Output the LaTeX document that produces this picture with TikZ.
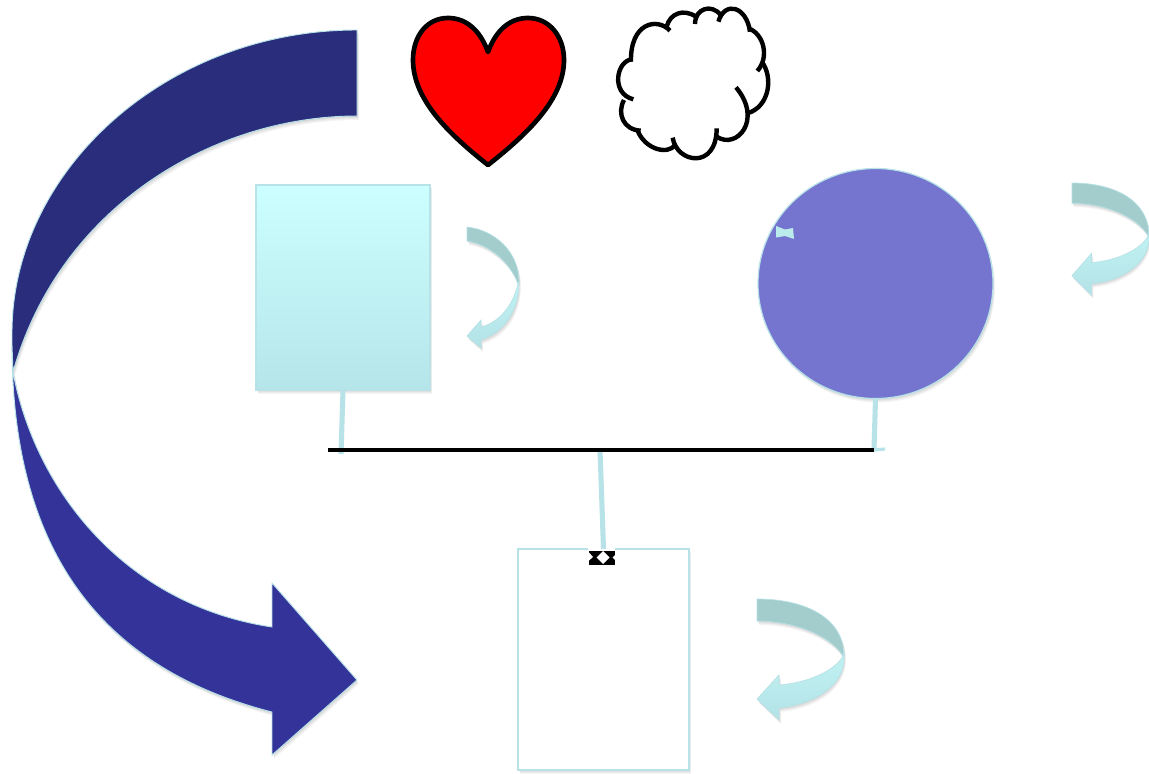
\documentclass[tikz,border=0pt]{standalone}
\usetikzlibrary{shapes.geometric}
\definecolor{edgepale}{HTML}{B7E2E7}
\definecolor{navyup}{HTML}{2A2C7C}
\definecolor{navylow}{HTML}{343399}
\definecolor{discfill}{HTML}{7575CF}
\definecolor{swoopdark}{HTML}{A3CCCC}
\definecolor{swooptop}{HTML}{C2F3F3}
\definecolor{swoopbot}{HTML}{B2E2E6}
\definecolor{paneltop}{HTML}{CCFFFF}
\definecolor{panelmid}{HTML}{C6F8FA}
\definecolor{panelbot}{HTML}{B5E5E9}
\newcommand{\softcopy}[1]{%
  \fill[black,opacity=.04,shift={(0.5,1)}] #1;
  \fill[black,opacity=.04,shift={(1,2)}] #1;
  \fill[black,opacity=.04,shift={(1.5,3)}] #1;
  \fill[black,opacity=.04,shift={(2,4)}] #1;
}
\newcommand{\swoop}[4]{%
  \begin{scope}[shift={(#1,#2)},xscale=#3,yscale=#4]
    \softcopy{(0,0) .. controls (50,0) and (87,20) .. (87,57) .. controls (87,85) and (60,105) .. (22,109) -- (22,121) -- (0,100) -- (22,76) -- (22,86) .. controls (50,84) and (78,72) .. (86,57) .. controls (72,35) and (35,22) .. (0,22) -- cycle}
    \path[swoopline,fill=swoopdark] (0,0) .. controls (50,0) and (87,20) .. (87,57) -- (86,57) .. controls (72,35) and (35,22) .. (0,22) -- cycle;
    \path[swoopline,top color=swooptop,bottom color=swoopbot] (87,52) -- (87,60) .. controls (87,85) and (60,105) .. (22,109) -- (22,121) -- (0,100) -- (22,76) -- (22,86) .. controls (50,84) and (78,72) .. (86,57) -- cycle;
  \end{scope}
}
\tikzset{
  x=0.75pt,y=-0.75pt,
  swoopline/.style={draw=edgepale,line width=0.5pt},
  bigline/.style={draw=edgepale,line width=0.7pt,line join=miter},
  stem/.style={draw=edgepale,line width=3.8pt},
  bar/.style={draw=black,line width=3.2pt},
  outline/.style={draw=black,line width=3.5pt,line join=round},
  puff/.style={draw=black,line width=3.3pt},
  panel/.style={rectangle,inner sep=0pt,outer sep=0pt,draw=edgepale,line width=0.9pt},
}
\begin{document}
\begin{tikzpicture}
\useasboundingbox (0,0) rectangle (1149,774);
\fill[white] (0,0) rectangle (1149,774);
% big arrow
\softcopy{(357,30) .. controls (167,30) and (12,170) .. (12,333) -- (12,345) .. controls (12,550) and (100,668) .. (272,712) -- (272,755) -- (357,680) -- (272,583) -- (272,627) .. controls (125,605) and (35,490) .. (13,372) -- (13,372) .. controls (60,205) and (215,116) .. (357,116) -- cycle}
\path[bigline,fill=navylow] (12,345) .. controls (12,550) and (100,668) .. (272,712) -- (272,755) -- (357,680) -- (272,583) -- (272,627) .. controls (125,605) and (35,490) .. (13,372) -- cycle;
\path[bigline,fill=navyup] (357,30) .. controls (167,30) and (12,170) .. (12,333) -- (12,345) -- (13,372) .. controls (60,205) and (215,116) .. (357,116) -- cycle;
% heart
\path[outline,fill=red] (488,52) .. controls (480,30) and (466,18) .. (448,18) .. controls (427,18) and (413,36) .. (413,60) .. controls (413,100) and (450,135) .. (488,165) .. controls (526,135) and (564,100) .. (564,60) .. controls (564,36) and (549,18) .. (528,18) .. controls (510,18) and (496,30) .. (488,52) -- cycle;
% cloud
\begin{scope}[shift={(400,0)},x=0.25pt,y=-0.25pt]
  \draw[puff] (810,92) .. controls (770,50) and (690,70) .. (693,185);
  \draw[puff] (697,178) .. controls (650,180) and (630,280) .. (700,298);
  \draw[puff] (672,300) .. controls (650,340) and (670,390) .. (722,392);
  \draw[puff] (712,390) .. controls (735,450) and (805,465) .. (825,435);
  \draw[puff] (818,413) .. controls (830,490) and (950,510) .. (950,385);
  \draw[puff] (950,410) .. controls (1010,450) and (1090,360) .. (1008,262);
  \draw[puff] (1042,340) .. controls (1110,320) and (1120,230) .. (1085,185);
  \draw[puff] (1072,213) .. controls (1110,170) and (1090,100) .. (1045,85);
  \draw[puff] (1050,95) .. controls (1040,20) and (975,0) .. (955,65);
  \draw[puff] (962,45) .. controls (935,10) and (885,25) .. (885,72);
  \draw[puff] (888,50) .. controls (850,25) and (810,40) .. (800,80);
\end{scope}
% soft shadows of the main shapes
\softcopy{(256,185) rectangle (430,390)}
\softcopy{(875.5,283.5) ellipse [x radius=117.5,y radius=115]}
\softcopy{(518,549) rectangle (689,770)}
% nodes
\node[panel,top color=paneltop,middle color=panelmid,bottom color=panelbot,minimum width=130.5pt,minimum height=153.75pt] (cyanpanel) at (343,287.5) {};
\node[ellipse,inner sep=0pt,outer sep=0pt,draw=edgepale,line width=0.9pt,fill=discfill,minimum width=176.25pt,minimum height=172.5pt] (disc) at (875.5,283.5) {};
\node[panel,fill=white,line width=1.5pt,minimum width=128.25pt,minimum height=165.75pt] (whitepanel) at (603.5,659.5) {};
% bar and connectors
\coordinate (barleft) at (328,450);
\coordinate (barright) at (874,450);
\coordinate (barmid) at (600,450);
\coordinate (leftfoot) at (341,454);
\coordinate (rightfoot) at (874,450);
\coordinate (rightnib) at (885,449);
\fill[white] (588,547) rectangle (615,551);
\fill[black] (588.5,550.5) rectangle (615,565);
\fill[white] (603,551) -- (609.5,557.5) -- (603,564) -- (596.5,557.5) -- cycle;
\fill[white] (588.5,552) -- (593,557) -- (588.5,561) -- cycle;
\fill[white] (615,555) -- (612.5,557.5) -- (615,560) -- cycle;
\draw[stem] (cyanpanel.south) -- (leftfoot);
\draw[stem] (disc.south) -- (rightfoot);
\draw[stem,line width=2.4pt] (rightfoot) -- (rightnib);
\draw[stem] (barmid) -- (whitepanel.north);
\draw[bar] (barleft) -- (barright);
% bow tie on the disc
\fill[swooptop!80!swoopdark] (776,226) -- (785,229.5) -- (793,228) -- (794,239) -- (785,236) -- (776,237.5) -- cycle;
% small curved arrows
\softcopy{(467,227) .. controls (495,230) and (519,252) .. (519,282) .. controls (519,310) and (505,332) .. (481,340) -- (481,348) -- (467,336) -- (481,320) -- (481,327) .. controls (500,322) and (513,305) .. (518,284) .. controls (510,262) and (490,245) .. (467,241) -- cycle}
\path[swoopline,fill=swoopdark] (467,227) .. controls (495,230) and (519,252) .. (519,282) -- (518,284) .. controls (510,262) and (490,245) .. (467,241) -- cycle;
\path[swoopline,top color=swooptop,bottom color=swoopbot] (519,282) .. controls (519,310) and (505,332) .. (481,340) -- (481,348) -- (467,336) -- (481,320) -- (481,327) .. controls (500,322) and (513,305) .. (518,284) -- cycle;
\swoop{1072}{183}{0.885}{0.926}
\swoop{757}{599}{1}{1}
\end{tikzpicture}
\end{document}
